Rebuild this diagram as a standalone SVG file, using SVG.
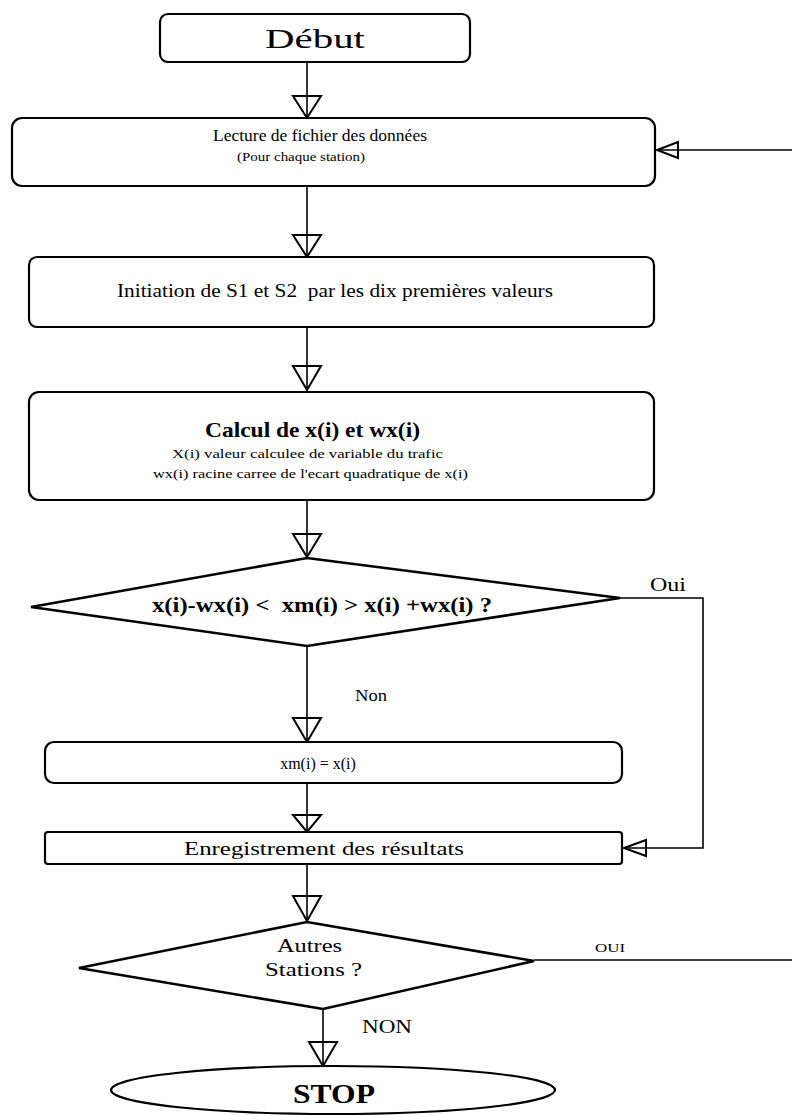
<svg xmlns="http://www.w3.org/2000/svg" width="792" height="1115" viewBox="0 0 792 1115">
<style>
.box{fill:#fff;stroke:#000;stroke-width:2.2}
.dia{fill:#fff;stroke:#000;stroke-width:2.6;stroke-linejoin:miter}
.ln{fill:none;stroke:#000;stroke-width:1.6}
.tri{fill:none;stroke:#000;stroke-width:2;stroke-linejoin:miter}
text{font-family:"Liberation Serif","Times New Roman",serif;fill:#000}
.b{font-weight:bold}
</style>
<rect width="792" height="1115" fill="#fff"/>
<g id="connectors">
<path class="ln" d="M307 62V118"/>
<path class="tri" d="M293 96H321L307 118Z"/>
<path class="ln" d="M792 150H657"/>
<path class="tri" d="M678 142V158L657 150Z"/>
<path class="ln" d="M307 186V257"/>
<path class="tri" d="M293 235H321L307 257Z"/>
<path class="ln" d="M307 327V392"/>
<path class="tri" d="M293 366H321L307 390Z"/>
<path class="ln" d="M307 500V558"/>
<path class="tri" d="M293 534H321L307 557Z"/>
<path class="ln" d="M307 646V742"/>
<path class="tri" d="M293 718H321L307 742Z"/>
<path class="ln" d="M620 598H703V848H624"/>
<path class="tri" d="M646 840V856L624 848Z"/>
<path class="ln" d="M307 783V832"/>
<path class="tri" d="M293 815H321L307 832Z"/>
<path class="ln" d="M307 864V922"/>
<path class="tri" d="M293 896H321L307 921Z"/>
<path class="ln" d="M534 960H792"/>
<path class="ln" d="M323 1010V1066"/>
<path class="tri" d="M309 1042H337L323 1066Z"/>
<text x="650" y="591" font-size="18" textLength="36" lengthAdjust="spacingAndGlyphs">Oui</text>
<text x="355" y="701" font-size="17" textLength="32" lengthAdjust="spacingAndGlyphs">Non</text>
<text x="595" y="952" font-size="13" textLength="30" lengthAdjust="spacingAndGlyphs">OUI</text>
<text x="362" y="1033" font-size="18" textLength="50" lengthAdjust="spacingAndGlyphs">NON</text>
</g>
<g id="debut">
<rect class="box" x="160" y="14" width="310" height="48" rx="8"/>
<text x="265" y="48" font-size="28" textLength="100" lengthAdjust="spacingAndGlyphs">Début</text>
</g>
<g id="lecture">
<rect class="box" x="12" y="118" width="643" height="68" rx="10"/>
<text x="213" y="141" font-size="17" textLength="214" lengthAdjust="spacingAndGlyphs">Lecture de fichier des données</text>
<text x="237" y="161" font-size="12" textLength="128" lengthAdjust="spacingAndGlyphs">(Pour chaque station)</text>
</g>
<g id="initiation">
<rect class="box" x="29" y="257" width="625" height="70" rx="8"/>
<text x="117" y="297" font-size="19" textLength="436" lengthAdjust="spacingAndGlyphs" xml:space="preserve">Initiation de S1 et S2  par les dix premières valeurs</text>
</g>
<g id="calcul">
<rect class="box" x="29" y="392" width="625" height="108" rx="10"/>
<text x="205" y="437" font-size="21" class="b" textLength="215" lengthAdjust="spacingAndGlyphs">Calcul de x(i) et wx(i)</text>
<text x="172" y="458" font-size="13" textLength="271" lengthAdjust="spacingAndGlyphs">X(i) valeur calculee de variable du trafic</text>
<text x="153" y="478" font-size="13" textLength="315" lengthAdjust="spacingAndGlyphs">wx(i) racine carree de l'ecart quadratique de x(i)</text>
</g>
<g id="test1">
<path class="dia" d="M307 558L620 598L307 646L31 607Z"/>
<text x="152" y="612" font-size="20" class="b" textLength="340" lengthAdjust="spacingAndGlyphs" xml:space="preserve">x(i)-wx(i) &lt;  xm(i) &gt; x(i) +wx(i) ?</text>
</g>
<g id="xm">
<rect class="box" x="45" y="742" width="577" height="41" rx="9"/>
<text x="318" y="769" font-size="16" text-anchor="middle">xm(i) = x(i)</text>
</g>
<g id="enregistrement">
<rect class="box" x="45" y="832" width="577" height="32" rx="3"/>
<text x="184" y="855" font-size="19" textLength="280" lengthAdjust="spacingAndGlyphs">Enregistrement des résultats</text>
</g>
<g id="test2">
<path class="dia" d="M307 922L534 961L323 1009L79 968Z"/>
<text x="277" y="952" font-size="18" textLength="65" lengthAdjust="spacingAndGlyphs">Autres</text>
<text x="265" y="976" font-size="18" textLength="97" lengthAdjust="spacingAndGlyphs">Stations ?</text>
</g>
<g id="stop">
<ellipse class="box" cx="333" cy="1090" rx="222" ry="24"/>
<text x="293" y="1103" font-size="28" class="b" textLength="82" lengthAdjust="spacingAndGlyphs">STOP</text>
</g>
</svg>
